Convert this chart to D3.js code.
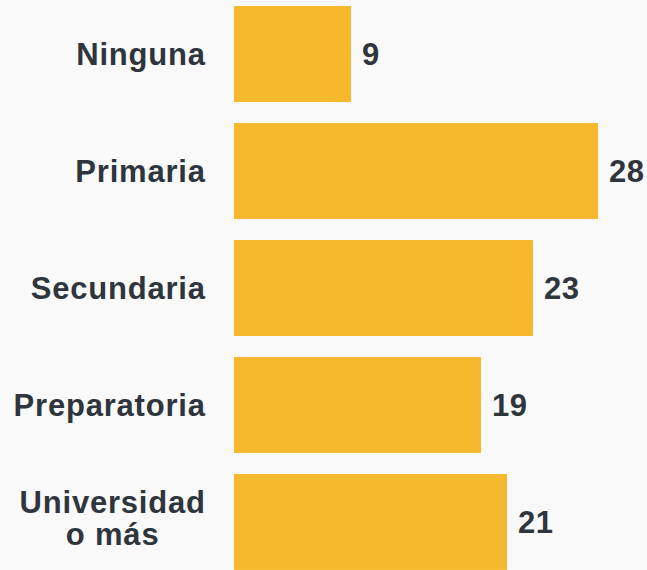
<!DOCTYPE html>
<html><head><meta charset="utf-8">
<script src="https://cdn.jsdelivr.net/npm/d3@7"></script>
<style>
html,body{margin:0;padding:0;background:#f9f9f9;}
svg{display:block;}
</style></head>
<body>
<script>
const categories = ["Ninguna", "Primaria", "Secundaria", "Preparatoria", "Universidad\no más"];
const values = [9, 28, 23, 19, 21];

const W = 647, H = 570;
const svg = d3.select("body").append("svg").attr("width", W).attr("height", H);
svg.append("rect").attr("width", W).attr("height", H).attr("fill", "#f9f9f9");

const x = d3.scaleLinear().domain([0, 28]).range([234, 598]);
const y = d3.scaleBand().domain(categories).range([6 - 10.5, 591 - 10.5]).paddingInner(0.18).paddingOuter(0.09);

const textColor = "#2f353d";
const font = "'Liberation Sans', Arial, sans-serif";

svg.selectAll("rect.bar").data(categories).join("rect")
  .attr("class", "bar")
  .attr("x", x(0))
  .attr("y", d => y(d))
  .attr("width", (d, i) => x(values[i]) - x(0))
  .attr("height", y.bandwidth())
  .attr("fill", "#f6b92e");

svg.selectAll("text.val").data(categories).join("text")
  .attr("class", "val")
  .attr("x", (d, i) => x(values[i]) + 11)
  .attr("y", d => y(d) + y.bandwidth() / 2 + 11)
  .attr("font-family", font).attr("font-weight", "bold").attr("font-size", 31)
  .attr("letter-spacing", 0.5)
  .attr("fill", textColor)
  .text((d, i) => values[i]);

const labelRight = 205;
const ls = 0.8;
categories.forEach(c => {
  const lines = c.split("\n");
  const cy = y(c) + y.bandwidth() / 2;
  const g = svg.append("g");
  const lh = 32;
  const shift = lines.length > 1 ? -4 : 0;
  const texts = lines.map((ln, j) => g.append("text")
    .attr("y", cy + 11 + shift + (j - (lines.length - 1) / 2) * lh)
    .attr("font-family", font).attr("font-weight", "bold").attr("font-size", 31)
    .attr("letter-spacing", ls)
    .attr("fill", textColor)
    .text(ln));
  const widths = texts.map(t => t.node().getComputedTextLength() - ls);
  const maxW = d3.max(widths);
  const center = labelRight - maxW / 2;
  texts.forEach((t, j) => t.attr("x", center - widths[j] / 2));
});
</script>
</body></html>
